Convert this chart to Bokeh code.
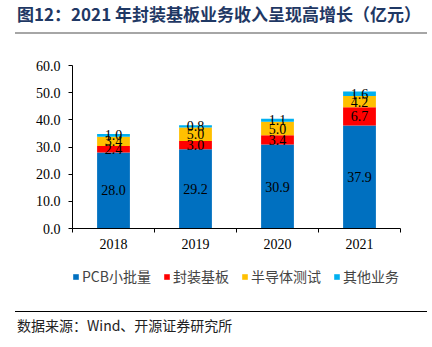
from bokeh.plotting import figure
from bokeh.layouts import column
from bokeh.models import (ColumnDataSource, FixedTicker, LabelSet, Legend, LegendItem,
                          CustomJSTickFormatter, Range1d, Div)
from bokeh.embed import file_html
from bokeh.resources import INLINE

years = ["2018", "2019", "2020", "2021"]
pcb = [28.0, 29.2, 30.9, 37.9]
substrate = [2.4, 3.0, 3.4, 6.7]
semi_test = [3.4, 5.0, 5.0, 4.2]
other = [1.0, 0.8, 1.1, 1.6]
series_names = ["PCB小批量", "封装基板", "半导体测试", "其他业务"]
colors = ["#0070C0", "#FF0000", "#FFC000", "#00B0F0"]
y_ticks = [0, 10, 20, 30, 40, 50, 60]
title_text = "图12：2021 年封装基板业务收入呈现高增长（亿元）"
source_text = "数据来源：Wind、开源证券研究所"

W = 432
L, R = 72, 32
H_TOP, H_MAIN, H_LEG, H_SRC = 40, 218, 30, 59
serif = "Liberation Serif"
cjk = "Noto Sans CJK SC"

# ---- top: title with grey rule underneath (HTML text)
title_div = Div(
    text=(f'<div style="box-sizing:border-box;height:34px;width:412px;margin-left:15px;'
          f'padding:4px 0 0 2px;border-bottom:2px solid #A6A6A6;'
          f'font-family:\'{cjk}\';font-weight:bold;font-size:17px;line-height:20px;'
          f'color:#1F3864;white-space:nowrap;">{title_text}</div>'),
    width=W, height=H_TOP, margin=0)

# ---- main chart
xs = [i + 1 for i in range(len(years))]
src = ColumnDataSource(dict(x=xs, s0=pcb, s1=substrate, s2=semi_test, s3=other))

p = figure(width=W, height=H_MAIN, output_backend="svg", toolbar_location=None,
           x_range=Range1d(0.5, len(years) + 0.5), y_range=Range1d(0, 60),
           min_border_left=L, min_border_right=R, min_border_top=25, min_border_bottom=30)
p.margin = 0
p.outline_line_color = None
p.xgrid.visible = False
p.ygrid.visible = False

renderers = p.vbar_stack(["s0", "s1", "s2", "s3"], x="x", width=0.4, color=colors,
                         line_color=None, source=src)

stack = [pcb, substrate, semi_test, other]
lx, ly, lt = [], [], []
for i in range(len(years)):
    base = 0.0
    for s in stack:
        v = s[i]
        lx.append(xs[i]); ly.append(base + v / 2); lt.append(f"{v:.1f}")
        base += v
lab_src = ColumnDataSource(dict(x=lx, y=ly, t=lt))
p.add_layout(LabelSet(x="x", y="y", text="t", source=lab_src, text_align="center",
                      text_baseline="middle", text_font="Liberation Sans", text_font_size="14px",
                      text_color="#000000"))

p.yaxis.ticker = FixedTicker(ticks=y_ticks)
p.yaxis.formatter = CustomJSTickFormatter(code="return tick.toFixed(1);")
p.yaxis.major_label_text_font = serif
p.yaxis.major_label_text_font_size = "14px"
p.yaxis.major_label_text_color = "#000000"
p.yaxis.axis_line_color = "#000000"
p.yaxis.major_tick_line_color = "#000000"
p.yaxis.major_tick_in = 0
p.yaxis.major_tick_out = 4
p.yaxis.minor_tick_line_color = None
p.yaxis.major_label_standoff = 8

p.xaxis.ticker = FixedTicker(ticks=xs, minor_ticks=[x - 0.5 for x in xs] + [xs[-1] + 0.5])
p.xaxis.major_label_overrides = {x: y for x, y in zip(xs, years)}
p.xaxis.major_label_text_font = serif
p.xaxis.major_label_text_font_size = "14px"
p.xaxis.major_label_text_color = "#000000"
p.xaxis.axis_line_color = "#000000"
p.xaxis.major_tick_line_color = None
p.xaxis.major_tick_in = 0
p.xaxis.major_tick_out = 4
p.xaxis.minor_tick_line_color = "#000000"
p.xaxis.minor_tick_in = 0
p.xaxis.minor_tick_out = 4
p.xaxis.major_label_standoff = 6

# ---- legend strip
leg_fig = figure(width=W, height=H_LEG, output_backend="svg", toolbar_location=None,
                 x_range=Range1d(0, 1), y_range=Range1d(0, 1),
                 x_axis_type=None, y_axis_type=None,
                 min_border_left=L, min_border_right=0, min_border_top=0, min_border_bottom=0)
leg_fig.margin = 0
leg_fig.grid.visible = False
leg_fig.outline_line_color = None
# zero-height placeholder bars, used only as legend swatches
leg_rs = [leg_fig.vbar(x=[0], top=[0], bottom=[0], width=0, fill_color=c, line_color=None)
          for c in colors]
items = [LegendItem(label=n, renderers=[r]) for n, r in zip(series_names, leg_rs)]
leg = Legend(items=items, orientation="horizontal", location=(0, 2),
             glyph_width=7, glyph_height=7, label_text_font=cjk,
             label_text_font_size="14px", label_standoff=3, spacing=12,
             border_line_color=None, background_fill_alpha=0, padding=0, margin=0,
             label_height=14)
leg_fig.add_layout(leg, "center")

# ---- source line with black rule above (HTML text)
source_div = Div(
    text=(f'<div style="height:23px;"></div>'
          f'<div style="width:412px;margin-left:15px;border-top:1px solid #000000;'
          f'padding:4px 0 0 2px;font-family:\'{cjk}\';font-size:14px;'
          f'line-height:18px;color:#222222;white-space:nowrap;">{source_text}</div>'),
    width=W, height=H_SRC, margin=0)

layout = column(title_div, p, leg_fig, source_div, spacing=0, margin=0)
open("out.html", "w").write(file_html(layout, INLINE))
